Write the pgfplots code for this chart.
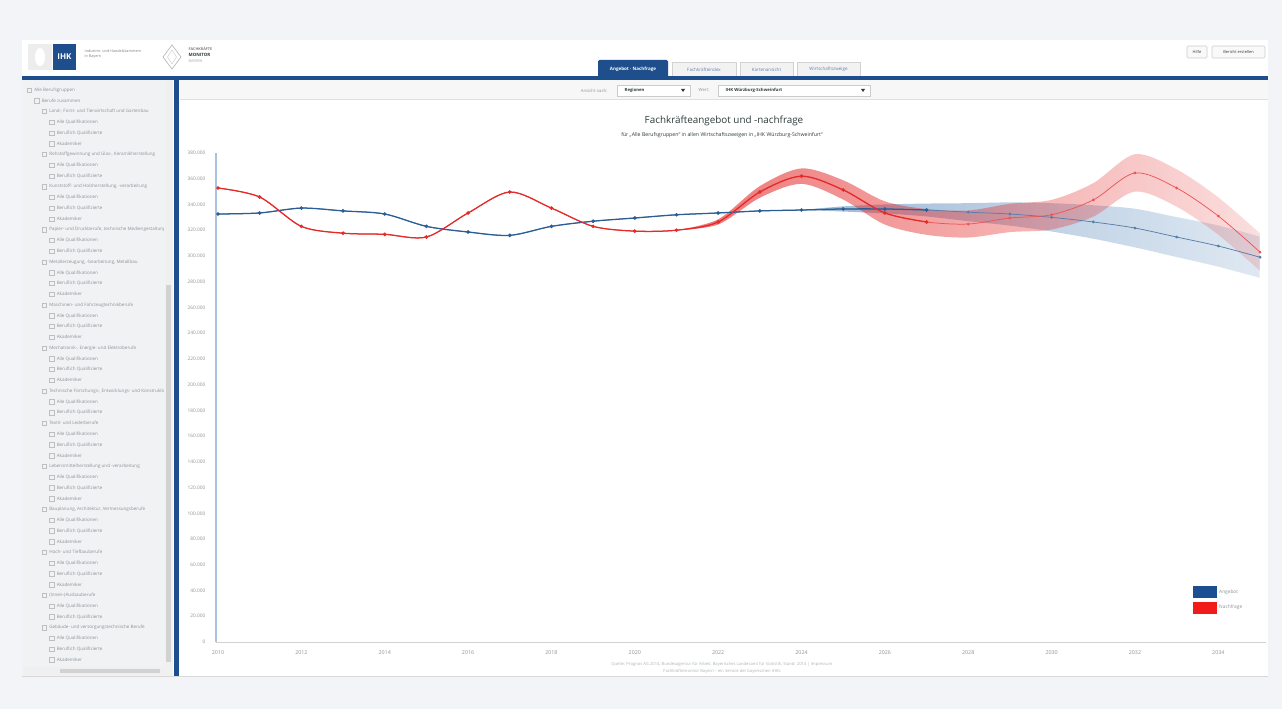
\documentclass[border=0pt]{standalone}
\usepackage{fontspec}
\setmainfont{Open Sans}
\usepackage{pgfplots}
\usepackage{pgfplotstable}
\pgfplotsset{compat=1.18}
\usetikzlibrary{fadings}

\definecolor{pagebg}{HTML}{F3F4F8}
\definecolor{hdrblue}{HTML}{1F4E8C}
\definecolor{angebot}{HTML}{2B5E95}
\definecolor{nachfrage}{HTML}{E52A2A}
\definecolor{bandblue}{HTML}{4F82B8}
\definecolor{legblue}{HTML}{1B4F91}
\definecolor{legred}{HTML}{F21B1B}
\definecolor{axisblue}{HTML}{A9C3DE}
\definecolor{sidebg}{HTML}{F1F2F4}
\definecolor{txtgray}{HTML}{8C9396}
\definecolor{titlecol}{HTML}{2E3B3B}

\tikzfading[name=redfade, left color=transparent!35, middle color=transparent!50, right color=transparent!85]
\tikzfading[name=bluefade, left color=transparent!45, middle color=transparent!55, right color=transparent!82]

\pgfplotstableread{
year angebot nachfrage
2010 332600 352800
2011 333400 345800
2012 337200 323000
2013 335000 317700
2014 332600 316800
2015 323000 314700
2016 318600 333400
2017 316000 349700
2018 323000 337200
2019 327000 323000
2020 329500 319300
2021 332000 320000
2022 333400 326400
2023 335000 349700
2024 335700 362000
2025 336500 351300
2026 336500 333400
2027 335700 326400
2028 334000 324800
2029 332600 329500
2030 330000 332000
2031 326400 343500
2032 321700 364500
2033 314700 352800
2034 307700 331000
2035 299000 303000
}\datatab

\pgfplotstableread{
year lo hi
2021 320000 320000
2022 324400 328400
2023 345200 354200
2024 356000 368000
2025 343800 358800
2026 324400 342400
2027 316400 336400
2028 314300 335300
2029 318500 340500
2030 320500 343500
2031 330500 356500
2032 350000 379000
2033 338300 367300
2034 316500 345500
2035 288500 317500
}\redband

\pgfplotstableread{
year lo hi
2024 335700 335700
2025 334500 338500
2026 333000 340000
2027 330700 340700
2028 327000 341000
2029 323600 341600
2030 319000 341000
2031 313400 339400
2032 306700 336700
2033 299200 330200
2034 291700 323700
2035 283000 315000
}\blueband

\pgfplotsset{
  chartframe/.style={
    at={(axO)}, anchor=south west, scale only axis,
    width=787.5pt, height=366.75pt,
    xmin=2009.952, xmax=2035.144, ymin=0, ymax=380000,
  }
}

\begin{document}
\begin{tikzpicture}[x=0.75pt,y=-0.75pt]
% page background
\fill[pagebg] (0,0) rectangle (1282,709);
\fill[white] (22,40) rectangle (1268,677);

% logos
\fill[gray!14] (28,44) rectangle (52,70);
\fill[white] (40,57) ellipse (5 and 9);
\fill[hdrblue] (53,44) rectangle (76,70);
\node[white, font=\bfseries\fontsize{6}{6}\selectfont] at (64.5,57) {IHK};
\node[anchor=west, font=\fontsize{2.8}{3.4}\selectfont, text=gray, align=left] at (80,54) {Industrie- und Handelskammern\\in Bayern};
\draw[gray!55, line width=0.5pt] (172,45) -- (181,57) -- (172,69) -- (163,57) -- cycle;
\draw[gray!35, line width=0.4pt] (172,50) -- (176.5,57) -- (172,64) -- (167.5,57) -- cycle;
\node[anchor=west, font=\bfseries\fontsize{2.8}{3}\selectfont, text=gray] at (184,49) {FACHKRÄFTE};
\node[anchor=west, font=\bfseries\fontsize{3.3}{3.5}\selectfont, text=titlecol] at (184,55) {MONITOR};
\node[anchor=west, font=\fontsize{2.8}{3}\selectfont, text=gray!70] at (184,61) {BAYERN};

% top-right buttons
\filldraw[fill=gray!5, draw=gray!40, rounded corners=1pt] (1187,46) rectangle (1207,58);
\node[font=\fontsize{3}{3}\selectfont, text=titlecol] at (1197,52) {Hilfe};
\filldraw[fill=gray!5, draw=gray!40, rounded corners=1pt] (1212,46) rectangle (1265,58);
\node[font=\fontsize{3}{3}\selectfont, text=titlecol] at (1238.5,52) {Bericht erstellen};

% tabs
\fill[hdrblue, rounded corners=1pt] (598,60) rectangle (668,78);
\node[white, font=\bfseries\fontsize{3.4}{3.4}\selectfont] at (633,69) {Angebot · Nachfrage};
\filldraw[fill=gray!10, draw=gray!35] (672,62) rectangle (736,77);
\node[text=hdrblue!70, font=\fontsize{3.4}{3.4}\selectfont] at (704,69.5) {Fachkräfteindex};
\filldraw[fill=gray!10, draw=gray!35] (740,62) rectangle (793,77);
\node[text=hdrblue!70, font=\fontsize{3.4}{3.4}\selectfont] at (766.5,69.5) {Kartenansicht};
\filldraw[fill=gray!10, draw=gray!35] (797,62) rectangle (860,77);
\node[text=hdrblue!70, font=\fontsize{3.4}{3.4}\selectfont] at (828.5,69.5) {Wirtschaftszweige};

% header bar and separator
\fill[hdrblue] (22,76) rectangle (1268,80);
\fill[sidebg] (22,80) rectangle (173,676);
\fill[hdrblue] (174,80) rectangle (179,676);
\fill[gray!12] (164.5,81) rectangle (171.5,666);
\fill[gray!35] (165.5,285) rectangle (170.5,662);
\fill[gray!12] (23,667) rectangle (171,675);
\fill[gray!35] (60,669) rectangle (160,673);

% sidebar tree
\begin{scope}
\clip (22,80) rectangle (163,666);
\foreach [count=\i] \lvl/\txt in {
0/{Alle Berufsgruppen},
1/{Berufe zusammen},
2/{Land-, Forst- und Tierwirtschaft und Gartenbau},
3/{Alle Qualifikationen},3/{Beruflich Qualifizierte},3/{Akademiker},
2/{Rohstoffgewinnung und Glas-, Keramikherstellung},
3/{Alle Qualifikationen},3/{Beruflich Qualifizierte},
2/{Kunststoff- und Holzherstellung, -verarbeitung},
3/{Alle Qualifikationen},3/{Beruflich Qualifizierte},3/{Akademiker},
2/{Papier- und Druckberufe, technische Mediengestaltung},
3/{Alle Qualifikationen},3/{Beruflich Qualifizierte},
2/{Metallerzeugung, -bearbeitung, Metallbau},
3/{Alle Qualifikationen},3/{Beruflich Qualifizierte},3/{Akademiker},
2/{Maschinen- und Fahrzeugtechnikberufe},
3/{Alle Qualifikationen},3/{Beruflich Qualifizierte},3/{Akademiker},
2/{Mechatronik-, Energie- und Elektroberufe},
3/{Alle Qualifikationen},3/{Beruflich Qualifizierte},3/{Akademiker},
2/{Technische Forschungs-, Entwicklungs- und Konstruktionsberufe},
3/{Alle Qualifikationen},3/{Beruflich Qualifizierte},
2/{Textil- und Lederberufe},
3/{Alle Qualifikationen},3/{Beruflich Qualifizierte},3/{Akademiker},
2/{Lebensmittelherstellung und -verarbeitung},
3/{Alle Qualifikationen},3/{Beruflich Qualifizierte},3/{Akademiker},
2/{Bauplanung, Architektur, Vermessungsberufe},
3/{Alle Qualifikationen},3/{Beruflich Qualifizierte},3/{Akademiker},
2/{Hoch- und Tiefbauberufe},
3/{Alle Qualifikationen},3/{Beruflich Qualifizierte},3/{Akademiker},
2/{(Innen-)Ausbauberufe},
3/{Alle Qualifikationen},3/{Beruflich Qualifizierte},
2/{Gebäude- und versorgungstechnische Berufe},
3/{Alle Qualifikationen},3/{Beruflich Qualifizierte},3/{Akademiker}}{
  \pgfmathsetmacro{\yy}{90+(\i-1)*10.75}
  \pgfmathsetmacro{\xx}{27+\lvl*7.5}
  \draw[gray!50, line width=0.3pt] (\xx,\yy-2.2) rectangle (\xx+4.4,\yy+2.2);
  \node[anchor=west, inner sep=0pt, font=\fontsize{3.4}{3.4}\selectfont, text=txtgray] at (\xx+7,\yy) {\txt};
}
\end{scope}

% chart control bar
\fill[gray!6] (180,80) rectangle (1268,99);
\draw[gray!25, line width=0.3pt] (180,99) -- (1268,99);
\node[anchor=east, font=\fontsize{3.2}{3.2}\selectfont, text=txtgray] at (612,90.5) {Ansicht nach:};
\filldraw[fill=white, draw=gray!40, line width=0.3pt] (617,85) rectangle (690,96);
\node[anchor=west, font=\bfseries\fontsize{3.2}{3.2}\selectfont, text=titlecol] at (620,90.5) {Regionen};
\fill[titlecol] (681,89) -- (685,89) -- (683,92) -- cycle;
\node[anchor=east, font=\fontsize{3.2}{3.2}\selectfont, text=txtgray] at (714,90.5) {Wert:};
\filldraw[fill=white, draw=gray!40, line width=0.3pt] (718,85) rectangle (870,96);
\node[anchor=west, font=\bfseries\fontsize{3.2}{3.2}\selectfont, text=titlecol] at (721,90.5) {IHK Würzburg-Schweinfurt};
\fill[titlecol] (861,89) -- (865,89) -- (863,92) -- cycle;

% titles
\node[font=\fontsize{7.4}{8}\selectfont, text=titlecol] at (724,121) {Fachkräfteangebot und -nachfrage};
\node[font=\fontsize{3.9}{4}\selectfont, text=titlecol] at (722,135.5) {für „Alle Berufsgruppen“ in allen Wirtschaftszweigen in „IHK Würzburg-Schweinfurt“};

% footer
\node[font=\fontsize{3.1}{3.1}\selectfont, text=txtgray!70] at (722,664) {Quelle: Prognos AG 2014, Bundesagentur für Arbeit, Bayerisches Landesamt für Statistik; Stand: 2014 | Impressum};
\node[font=\fontsize{3.1}{3.1}\selectfont, text=txtgray!70] at (722,671.5) {Fachkräftemonitor Bayern – ein Service der bayerischen IHKs};
\draw[gray!30, line width=0.4pt] (22,676.5) -- (1268,676.5);

\coordinate (axO) at (216,642);

% blue band (Angebot)
\begin{axis}[chartframe, hide axis]
\addplot[draw=none, smooth, stack plots=y] table[x=year,y=lo]{\blueband};
\addplot[draw=none, fill=bandblue, path fading=bluefade, smooth, stack plots=y]
  table[x=year,y expr=\thisrow{hi}-\thisrow{lo}]{\blueband} \closedcycle;
\end{axis}

% red band (Nachfrage)
\begin{axis}[chartframe, hide axis]
\addplot[draw=none, smooth, stack plots=y] table[x=year,y=lo]{\redband};
\addplot[draw=none, fill=nachfrage, path fading=redfade, smooth, stack plots=y]
  table[x=year,y expr=\thisrow{hi}-\thisrow{lo}]{\redband} \closedcycle;
\end{axis}

% main axis with lines
\begin{axis}[chartframe,
  axis x line=bottom, axis y line=left,
  axis line style={-},
  x axis line style={gray!35, line width=0.4pt},
  y axis line style={axisblue, line width=1.6pt},
  xtick={2010,2012,...,2034},
  ytick={0,20000,...,380000},
  scaled y ticks=false,
  major tick length=0pt,
  tick label style={text=txtgray},
  /pgf/number format/assume math mode=true,
  yticklabel style={font=\fontsize{3.6}{4}\selectfont, xshift=-4.5pt, /pgf/number format/.cd, fixed, 1000 sep={.}},
  xticklabel style={font=\fontsize{4}{4}\selectfont, yshift=-3.2pt, /pgf/number format/.cd, 1000 sep={}},
  legend style={draw=none, fill=none, at={(0.9305,0.1145)}, anchor=north west,
    font=\fontsize{3.6}{4}\selectfont, text=txtgray, inner sep=0pt, row sep=2.6pt,
    /tikz/every even column/.append style={column sep=4pt}},
  legend cell align=left,
]
% forecast (full, thin)
\addplot[angebot!80, line width=0.55pt, smooth, mark=*, mark size=0.75pt, forget plot]
  table[x=year,y=angebot]{\datatab};
\addplot[nachfrage!80, line width=0.55pt, smooth, mark=*, mark size=0.75pt, forget plot]
  table[x=year,y=nachfrage]{\datatab};
% historic / near-term (thicker)
\addplot[angebot, line width=0.95pt, smooth, mark=*, mark size=0.8pt,
  restrict x to domain=2010:2027,
  legend image code/.code={\fill[legblue] (0pt,-4pt) rectangle (16.5pt,4pt);}]
  table[x=year,y=angebot]{\datatab};
\addlegendentry{Angebot}
\addplot[nachfrage, line width=0.95pt, smooth, mark=*, mark size=0.8pt,
  restrict x to domain=2010:2027,
  legend image code/.code={\fill[legred] (0pt,-4pt) rectangle (16.5pt,4pt);}]
  table[x=year,y=nachfrage]{\datatab};
\addlegendentry{Nachfrage}
\end{axis}
\end{tikzpicture}
\end{document}
